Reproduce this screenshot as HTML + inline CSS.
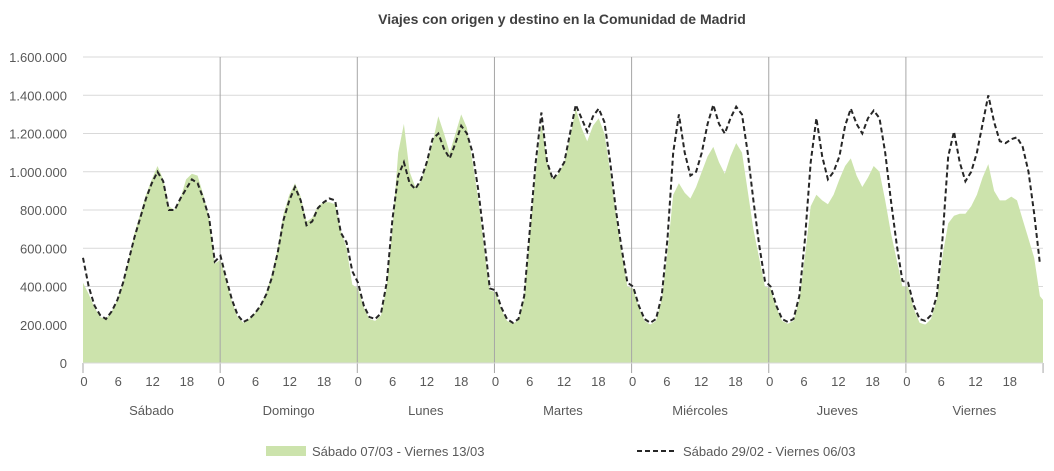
<!DOCTYPE html>
<html><head><meta charset="utf-8"><style>
body{margin:0;background:#fff;}
svg text{font-family:"Liberation Sans",sans-serif;fill:#595959;font-size:13px;}
</style></head><body>
<svg id="s" width="1054" height="466" xmlns="http://www.w3.org/2000/svg">
<rect width="1054" height="466" fill="#fff"/>
<text x="562" y="24" text-anchor="middle" style="font-weight:bold;font-size:14px;fill:#404040">Viajes con origen y destino en la Comunidad de Madrid</text>
<g id="g"></g>
<rect x="266" y="446" width="40" height="10" fill="#cce3ac"/>
<text x="312" y="456">Sábado 07/03 - Viernes 13/03</text>
<line x1="637" y1="451" x2="677" y2="451" stroke="#262626" stroke-width="2" stroke-dasharray="5,3"/>
<text x="683" y="456">Sábado 29/02 - Viernes 06/03</text>
</svg>
<script>
var D=[
[550,400,300,250,230,270,330,420,540,660,760,860,940,1000,950,800,800,860,910,960,940,860,760,530],
[560,440,330,250,215,230,260,300,360,450,580,750,850,920,850,720,740,810,840,860,850,680,630,480],
[420,300,240,230,260,420,750,980,1050,940,910,960,1050,1170,1200,1120,1070,1150,1240,1200,1100,900,650,390],
[380,290,230,210,230,350,700,1050,1310,1050,960,1000,1050,1200,1350,1280,1210,1290,1330,1260,1050,800,600,420],
[400,300,230,210,230,350,650,1100,1300,1100,980,1000,1100,1250,1350,1250,1200,1280,1340,1300,1100,850,620,430],
[400,300,230,215,230,350,650,1050,1280,1080,960,1000,1080,1240,1330,1250,1200,1280,1320,1280,1100,850,620,430],
[420,300,230,220,250,350,650,1080,1210,1050,950,1000,1100,1250,1400,1260,1160,1150,1170,1180,1130,1000,780,520]];
var G=[
[420,360,290,240,230,270,330,420,540,680,780,880,960,1030,960,820,800,860,960,990,980,880,760,520],
[540,430,320,240,210,230,260,300,370,470,600,780,880,940,870,740,760,820,840,840,830,690,600,410],
[390,290,230,220,250,400,700,1100,1250,1000,920,950,1050,1150,1290,1200,1100,1200,1300,1230,1050,850,600,380],
[370,280,220,205,225,340,680,1000,1250,1050,960,990,1050,1180,1330,1230,1160,1240,1280,1200,1000,780,580,400],
[390,290,220,200,220,330,580,880,940,890,860,920,1000,1080,1130,1050,990,1080,1150,1100,900,700,550,400],
[390,290,220,205,220,330,560,820,880,850,830,880,960,1030,1070,980,920,970,1030,1000,850,680,540,400],
[400,280,210,200,230,330,560,730,770,780,780,820,880,970,1040,900,850,850,870,850,750,650,550,350]];
var x0=83,st=5.73,y0=363,k=306/1600;
function X(i){return x0+i*st}function Y(v){return y0-v*k}
var h='';
for(var v=200;v<=1600;v+=200){h+='<line x1="83" x2="1043" y1="'+Y(v)+'" y2="'+Y(v)+'" stroke="#d9d9d9"/>';}
var lbl=['0','200.000','400.000','600.000','800.000','1.000.000','1.200.000','1.400.000','1.600.000'];
for(var i=0;i<9;i++)h+='<text x="67" y="'+(Y(i*200)+5)+'" text-anchor="end">'+lbl[i]+'</text>';
var g=[].concat.apply([],G),d=[].concat.apply([],D);
var p='M'+X(0)+','+y0;for(i=0;i<g.length;i++)p+=' L'+X(i).toFixed(1)+','+Y(g[i]).toFixed(1);p+=' L1043,'+Y(330)+' L1043,'+y0+'Z';
h+='<path d="'+p+'" fill="#cce3ac"/>';
var days=['Sábado','Domingo','Lunes','Martes','Miércoles','Jueves','Viernes'];
for(var dd=0;dd<=7;dd++){var x=x0+dd*137.15;
 h+='<line x1="'+x+'" x2="'+x+'" y1="'+(dd==0||dd==7?363:57)+'" y2="373" stroke="#a6a6a6"/>';
 if(dd<7){for(var t=0;t<4;t++)h+='<text x="'+(x+1+t*34.3)+'" y="386" text-anchor="middle">'+(t*6)+'</text>';
 h+='<text x="'+(x+68.5)+'" y="415" text-anchor="middle">'+days[dd]+'</text>';}}
h+='<line x1="83" x2="1043" y1="363" y2="363" stroke="#d9d9d9"/>';
var q='';for(i=0;i<d.length;i++)q+=(i?' L':'M')+X(i).toFixed(1)+','+Y(d[i]).toFixed(1);
h+='<path d="'+q+'" fill="none" stroke="#262626" stroke-width="2" stroke-dasharray="5,3"/>';
document.getElementById('g').innerHTML=h;
</script>
</body></html>
